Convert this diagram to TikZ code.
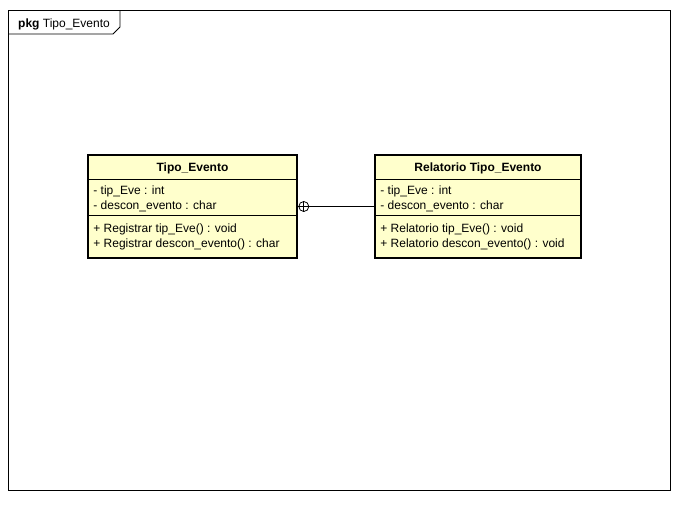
\documentclass[tikz,border=0pt]{standalone}
\usepackage{fontspec}
\setmainfont{Liberation Sans}
\usetikzlibrary{calc,positioning}
\definecolor{classfill}{HTML}{FFFFCC}

\begin{document}
\begin{tikzpicture}[x=1pt, y=-1pt, font=\fontsize{12}{14}\selectfont,
	classbox/.style={draw, line width=1.6pt, fill=classfill, minimum height=103pt, inner sep=0pt},
	member/.style={anchor=base west, inner sep=0pt},
	title/.style={anchor=base, font=\fontsize{12}{14}\selectfont\bfseries, inner sep=0pt}]
	\useasboundingbox (0,0) rectangle (694,507);

	% Package frame and tab
	\draw [line width=0.8pt] (8,10) rectangle (670,490);
	\draw [line width=0.8pt] (8,34) -- (113,34) -- (120,27) -- (120,10);
	\node [member] (pkg) at (18,27.5) {\textbf{pkg} Tipo\_Evento};

	% Classes {tipo, rel}
	\node [classbox, minimum width=209pt] (tipo) at (192.5,206.5) {};
	\node [classbox, minimum width=206pt] (rel)  at (478,206.5)   {};

	% Compartments
	\foreach \c in {tipo, rel} {
		\draw [line width=0.8pt] ($(\c.north west)+(0,25)$) -- ($(\c.north east)+(0,25)$);
		\draw [line width=0.8pt] ($(\c.north west)+(0,61)$) -- ($(\c.north east)+(0,61)$);
	}

	% Tipo_Evento
	\node [title] (tipoT) at ($(tipo.north)+(0,17)$) {Tipo\_Evento};
	\node [member] (tipoA1) at ($(tipo.north west)+(6,40)$) {- tip\_Eve : int};
	\node [member] (tipoA2) at ($(tipo.north west)+(6,55)$) {- descon\_evento : char};
	\node [member] (tipoM1) at ($(tipo.north west)+(6,78)$) {+ Registrar tip\_Eve() : void};
	\node [member] (tipoM2) at ($(tipo.north west)+(6,93)$) {+ Registrar descon\_evento() : char};

	% Relatorio Tipo_Evento
	\node [title] (relT) at ($(rel.north)+(0,17)$) {Relatorio Tipo\_Evento};
	\node [member] (relA1) at ($(rel.north west)+(6,40)$) {- tip\_Eve : int};
	\node [member] (relA2) at ($(rel.north west)+(6,55)$) {- descon\_evento : char};
	\node [member] (relM1) at ($(rel.north west)+(6,78)$) {+ Relatorio tip\_Eve() : void};
	\node [member] (relM2) at ($(rel.north west)+(6,93)$) {+ Relatorio descon\_evento() : void};

	% Nesting connector
	\node [circle, draw, line width=0.8pt, minimum size=10pt, inner sep=0pt] (nest) at ($(tipo.east)+(6,0)$) {};
	\draw [line width=0.8pt] (nest.north) -- (nest.south) (nest.west) -- (nest.east);
	\draw [line width=0.8pt] (nest.east) -- (rel.west);
\end{tikzpicture}
\end{document}
